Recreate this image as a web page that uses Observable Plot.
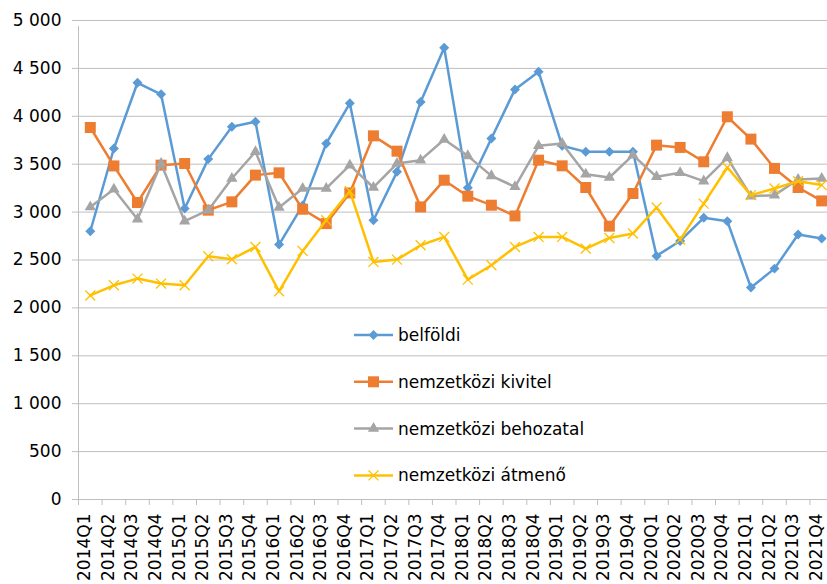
<!DOCTYPE html>
<html><head><meta charset="utf-8">
<script src="https://cdn.jsdelivr.net/npm/d3@7"></script>
<script src="https://cdn.jsdelivr.net/npm/@observablehq/plot@0.6"></script>
<style>
html,body{margin:0;padding:0;overflow:hidden;background:#fff;}
#wrap{position:relative;width:827px;height:584px;overflow:hidden;font-family:"DejaVu Sans",sans-serif;}
#legend{position:absolute;left:0;top:0;}
</style>
</head><body><div id="wrap"></div>
<script>
const quarters = ["2014Q1","2014Q2","2014Q3","2014Q4","2015Q1","2015Q2","2015Q3","2015Q4","2016Q1","2016Q2","2016Q3","2016Q4","2017Q1","2017Q2","2017Q3","2017Q4","2018Q1","2018Q2","2018Q3","2018Q4","2019Q1","2019Q2","2019Q3","2019Q4","2020Q1","2020Q2","2020Q3","2020Q4","2021Q1","2021Q2","2021Q3","2021Q4"];
const belfoldi = [2800,3664,4350,4229,3037,3553,3890,3943,2661,3070,3716,4135,2915,3420,4150,4715,3253,3768,4281,4465,3692,3629,3629,3629,2543,2699,2940,2905,2212,2410,2766,2724];
const kivitel = [3883,3482,3100,3490,3507,3020,3107,3386,3410,3030,2880,3200,3796,3636,3054,3333,3166,3072,2960,3542,3483,3257,2853,3194,3699,3675,3525,3995,3762,3456,3257,3117];
const behozatal = [3054,3239,2926,3507,2905,3020,3351,3629,3048,3247,3247,3490,3257,3507,3542,3758,3587,3378,3264,3692,3716,3396,3361,3594,3368,3410,3323,3566,3166,3177,3340,3351];
const atmeno = [2130,2236,2306,2254,2236,2539,2508,2636,2173,2595,2915,3218,2480,2504,2654,2741,2295,2445,2636,2741,2741,2619,2730,2776,3048,2713,3088,3466,3177,3247,3323,3282];
const seriesNames = ["belföldi","nemzetközi kivitel","nemzetközi behozatal","nemzetközi átmenő"];
const yTicks = [0,500,1000,1500,2000,2500,3000,3500,4000,4500,5000];

const styles = [
  {color:"#5b9bd5", symbol:"diamond2", r:4.5, filled:true},
  {color:"#ed7d31", symbol:"square", r:6.2, filled:true},
  {color:"#a5a5a5", symbol:"triangle", r:4.2, filled:true},
  {color:"#ffc000", symbol:"times", r:4.6, filled:false}
];
const valueSets = [belfoldi, kivitel, behozatal, atmeno];
const rows = valueSets.flatMap((vals, s) => vals.map((v, i) => ({q: quarters[i], i, v, s})));
const grid = "#bfbfbf";
const fmt = d => d3.format(",")(d).replace(/,/g, " ");

const marks = [
  Plot.ruleY(yTicks, {stroke: grid, strokeWidth: 1}),
  Plot.ruleX([0], {y1: 0, y2: 5000, stroke: grid, insetBottom: -6}),
  Plot.axisY({ticks: yTicks, tickSize: 6, tickPadding: 11, tickFormat: fmt, stroke: grid, fill: "#000", fontSize: 17, label: null}),
  Plot.axisX({ticks: d3.range(0, quarters.length + 1), tickSize: 6, tickFormat: () => "", stroke: grid, label: null}),
  Plot.text(quarters, {x: (d, i) => i + 0.5, frameAnchor: "bottom", text: d => d, rotate: -90, textAnchor: "end", dy: 14, fill: "#000", fontSize: 17})
];
styles.forEach((st, s) => {
  const data = rows.filter(d => d.s === s);
  marks.push(Plot.line(data, {x: d => d.i + 0.5, y: "v", stroke: st.color, strokeWidth: 2.5}));
  marks.push(Plot.dot(data, st.filled
    ? {x: d => d.i + 0.5, y: "v", symbol: () => st.symbol, r: st.r, fill: st.color, stroke: "none"}
    : {x: d => d.i + 0.5, y: "v", symbol: () => st.symbol, r: st.r, fill: "none", stroke: st.color, strokeWidth: 1.3}));
});

const chart = Plot.plot({
  width: 827, height: 584,
  marginLeft: 78, marginTop: 20, marginRight: 0, marginBottom: 85,
  style: {fontFamily: "DejaVu Sans", fontSize: "17px", background: "#fff", overflow: "hidden"},
  x: {type: "linear", domain: [0, quarters.length], range: [78, 833], axis: null},
  y: {domain: [0, 5000], range: [499, 20], axis: null},
  symbol: {type: "identity"},
  marks
});
document.getElementById("wrap").appendChild(chart);

// legend overlay
const leg = d3.select("#wrap").append("svg").attr("id", "legend").attr("width", 827).attr("height", 584);
seriesNames.forEach((name, k) => {
  const st = styles[k];
  const cy = 335 + k * 46.8;
  const g = leg.append("g");
  g.append("line").attr("x1", 354).attr("x2", 393).attr("y1", cy).attr("y2", cy).attr("stroke", st.color).attr("stroke-width", 2.5);
  const symMap = {diamond2: d3.symbolDiamond2, square: d3.symbolSquare, triangle: d3.symbolTriangle, times: d3.symbolTimes};
  const path = d3.symbol(symMap[st.symbol], Math.PI * st.r * st.r)();
  const p = g.append("path").attr("d", path).attr("transform", `translate(373.5,${cy})`);
  if (st.filled) p.attr("fill", st.color); else p.attr("fill", "none").attr("stroke", st.color).attr("stroke-width", 1.3);
  g.append("text").attr("x", 398).attr("y", cy).attr("dy", "0.35em").attr("font-size", 17).attr("font-family", "DejaVu Sans").attr("fill", "#000").text(name);
});
</script></body></html>
